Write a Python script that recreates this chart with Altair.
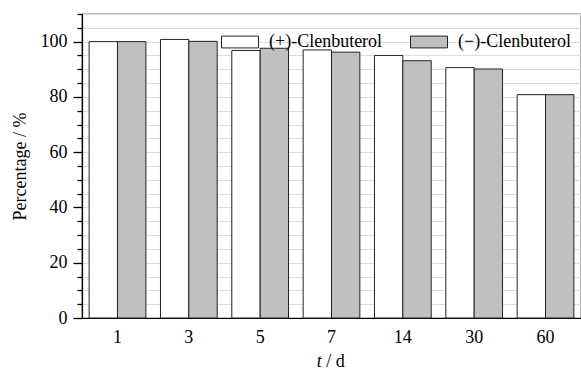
import altair as alt
import pandas as pd

days = ["1", "3", "5", "7", "14", "30", "60"]
plus_vals = [100.0, 100.8, 96.8, 97.0, 95.0, 90.6, 80.8]
minus_vals = [100.0, 100.1, 97.6, 96.2, 93.1, 90.1, 80.8]
series = ["(+)-Clenbuterol", "(\u2212)-Clenbuterol"]
y_ticks = list(range(0, 115, 5))

rows = []
for d, p, m in zip(days, plus_vals, minus_vals):
    rows.append({"day": d, "series": series[0], "value": p})
    rows.append({"day": d, "series": series[1], "value": m})
df = pd.DataFrame(rows)

FONT = "Liberation Serif"

bars = alt.Chart(df).mark_bar(stroke="#222222", strokeWidth=1).encode(
    x=alt.X("day:N", sort=days,
            scale=alt.Scale(paddingInner=0.205, paddingOuter=0.1),
            axis=alt.Axis(title=None, labelAngle=0, ticks=False, labelPadding=10,
                          labelFont=FONT, labelFontSize=18, labelColor="black",
                          domainColor="black", domainWidth=1.2)),
    xOffset=alt.XOffset("series:N", sort=series,
                        scale=alt.Scale(paddingInner=0, paddingOuter=0)),
    y=alt.Y("value:Q",
            scale=alt.Scale(domain=[0, 110], nice=False, zero=True),
            axis=alt.Axis(values=y_ticks,
                          labelExpr="datum.value % 20 === 0 ? datum.label : ''",
                          tickSize={"condition": {"test": "datum.value % 20 === 0", "value": 9}, "value": 5},
                          tickColor={"condition": {"test": "datum.value % 20 === 0", "value": "#000000"}, "value": "#000000"},
                          tickWidth=1.3, tickOpacity=1,
                          labelPadding=6, labelFont=FONT, labelFontSize=18, labelColor="black",
                          domainColor="black", domainWidth=1.2,
                          title="Percentage / %", titleFont=FONT, titleFontSize=18,
                          titleFontWeight="normal", titleColor="black",
                          titleX=-62, titleY=152, titleAngle=-90,
                          titleAlign="center", titleBaseline="middle")),
    fill=alt.Fill("series:N", sort=series,
                  scale=alt.Scale(domain=series, range=["#ffffff", "#c0c0c0"]),
                  legend=alt.Legend(title=None, orient="none", legendX=139, legendY=9,
                                    direction="horizontal", columns=2,
                                    symbolType="M-1,-0.32L1,-0.32L1,0.32L-1,0.32Z",
                                    symbolSize=1369, symbolStrokeColor="#222222",
                                    symbolStrokeWidth=1, symbolOpacity=1,
                                    labelFont=FONT, labelFontSize=18, labelColor="black",
                                    labelOffset=10, columnPadding=25, padding=0,
                                    labelLimit=300)),
)

lab = pd.DataFrame({"t": ["t"], "rest": ["/ d"]})
t_text = alt.Chart(lab).mark_text(font=FONT, fontSize=18, fontStyle="italic",
                                  align="left", baseline="middle", color="black").encode(
    text="t:N", x=alt.value(234.7), y=alt.value(348))
rest_text = alt.Chart(lab).mark_text(font=FONT, fontSize=18,
                                     align="left", baseline="middle", color="black").encode(
    text="rest:N", x=alt.value(244.2), y=alt.value(348))

chart = alt.layer(bars, t_text, rest_text).properties(
    width=499, height=304,
    padding={"left": 82, "top": 14, "right": 0, "bottom": 53},
    autosize=alt.AutoSizeParams(type="none"),
    background="white",
).configure_view(stroke="black", strokeWidth=1.2).configure_axis(tickColor="black")

chart.save("out.html", embed_options={"renderer": "svg", "actions": False})
